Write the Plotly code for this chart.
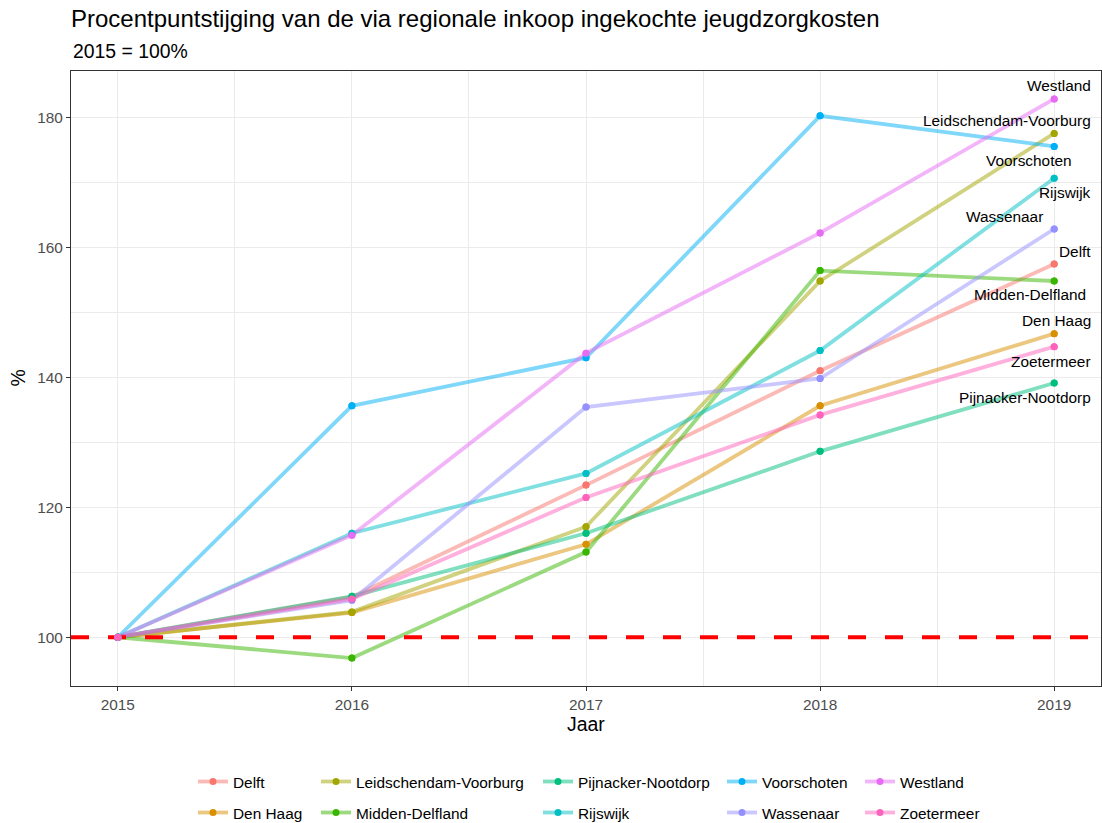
import plotly.graph_objects as go

# data (index, 2015 = 100)
years = [2015, 2016, 2017, 2018, 2019]

gemeenten = [
    "Delft", "Den Haag", "Leidschendam-Voorburg", "Midden-Delfland",
    "Pijnacker-Nootdorp", "Rijswijk", "Voorschoten", "Wassenaar",
    "Westland", "Zoetermeer",
]

delft = [100, 106.2, 123.4, 141.0, 157.4]
den_haag = [100, 103.8, 114.3, 135.6, 146.7]
leidschendam_voorburg = [100, 103.9, 117.0, 154.8, 177.5]
midden_delfland = [100, 96.8, 113.1, 156.4, 154.8]
pijnacker_nootdorp = [100, 106.3, 116.0, 128.6, 139.1]
rijswijk = [100, 116.0, 125.2, 144.1, 170.6]
voorschoten = [100, 135.6, 143.0, 180.2, 175.5]
wassenaar = [100, 105.7, 135.4, 139.8, 162.8]
westland = [100, 115.7, 143.7, 162.2, 182.8]
zoetermeer = [100, 105.9, 121.5, 134.2, 144.7]

baseline = 100

series = [delft, den_haag, leidschendam_voorburg, midden_delfland,
          pijnacker_nootdorp, rijswijk, voorschoten, wassenaar,
          westland, zoetermeer]

# ggplot2 default hue palette for 10 groups
colors = ["#F8766D", "#D89000", "#A3A500", "#39B600", "#00BF7D",
          "#00BFC4", "#00B0F6", "#9590FF", "#E76BF3", "#FF62BC"]

# label offsets (px) for the end-of-line labels, like ggrepel put them
label_shift = {
    "Delft": (39, 13),
    "Den Haag": (39, 13),
    "Leidschendam-Voorburg": (39, 13),
    "Midden-Delfland": (34, -14),
    "Pijnacker-Nootdorp": (39, -14),
    "Rijswijk": (39, -14),
    "Voorschoten": (20, -14),
    "Wassenaar": (-9, 12),
    "Westland": (39, 13),
    "Zoetermeer": (39, -15),
}

# legend position per entry: (left x px, centre y px), column-major like ggplot
legend_pos = [(193, 782), (193, 813), (316, 782), (316, 813), (538, 782),
              (538, 813), (722, 782), (722, 813), (860, 782), (860, 813)]

W, H = 1102, 823
FONT = "Liberation Sans, Arial, sans-serif"
PLOT_TOP, PLOT_BOTTOM = 71, 686


def rgba(hex_color, alpha):
    h = hex_color.lstrip("#")
    r, g, b = int(h[0:2], 16), int(h[2:4], 16), int(h[4:6], 16)
    return f"rgba({r},{g},{b},{alpha})"


def paper_y(px):
    return (PLOT_BOTTOM - px) / (PLOT_BOTTOM - PLOT_TOP)


fig = go.Figure()

for i, (name, vals) in enumerate(zip(gemeenten, series)):
    leg = "legend" if i == 0 else f"legend{i + 1}"
    fig.add_trace(go.Scatter(
        x=years, y=vals, name=name, mode="lines+markers",
        line=dict(color=rgba(colors[i], 0.5), width=3.8),
        marker=dict(color=colors[i], size=7),
        legend=leg,
    ))

# dashed reference line, expanded x range like ggplot
span = years[-1] - years[0]
x_lo, x_hi = years[0] - 0.05 * span, years[-1] + 0.05 * span
fig.add_trace(go.Scatter(
    x=[x_lo, x_hi], y=[baseline, baseline], mode="lines",
    line=dict(color="#FF0000", width=4, dash="18px,19px"),
    showlegend=False, hoverinfo="skip",
))

# points again on top of every line (ggplot draws the point layer last)
for i, (name, vals) in enumerate(zip(gemeenten, series)):
    fig.add_trace(go.Scatter(
        x=years, y=vals, mode="markers", showlegend=False,
        marker=dict(color=colors[i], size=7), hoverinfo="skip",
    ))

for name, vals in zip(gemeenten, series):
    dx, dy = label_shift[name]
    fig.add_annotation(
        x=years[-1], y=vals[-1], text=name, showarrow=False,
        xanchor="right", yanchor="middle", xshift=dx, yshift=dy,
        font=dict(family=FONT, size=15.4, color="black"),
    )

allvals = [v for s in series for v in s]
y_lo, y_hi = min(allvals), max(allvals)
pad = 0.05 * (y_hi - y_lo)

# subtitle and axis titles
fig.add_annotation(
    xref="paper", yref="paper", x=0, y=paper_y(51),
    xanchor="left", yanchor="middle", showarrow=False,
    text="2015 = 100%", font=dict(family=FONT, size=19.4, color="black"),
)
fig.add_annotation(
    xref="paper", yref="paper", x=0.5, y=paper_y(724),
    xanchor="center", yanchor="middle", showarrow=False,
    text="Jaar", font=dict(family=FONT, size=19.4, color="black"),
)
fig.add_annotation(
    xref="paper", yref="paper", x=0, xshift=-54, y=0.5,
    xanchor="center", yanchor="middle", showarrow=False, textangle=-90,
    text="%", font=dict(family=FONT, size=19.4, color="black"),
)

legends = {}
for i, (lx, ly) in enumerate(legend_pos):
    key = "legend" if i == 0 else f"legend{i + 1}"
    legends[key] = dict(
        xref="container", yref="container",
        x=lx / W, y=1 - ly / H, xanchor="left", yanchor="middle",
        orientation="v", bgcolor="rgba(0,0,0,0)", borderwidth=0,
        itemwidth=30, font=dict(family=FONT, size=15.4, color="black"),
    )

axis_common = dict(
    showline=True, mirror=True, linecolor="#333333", linewidth=1.1,
    ticks="outside", ticklen=4, tickwidth=1.1, tickcolor="#333333",
    tickfont=dict(family=FONT, size=15.4, color="#4D4D4D"),
    showgrid=True, gridcolor="#EBEBEB", gridwidth=1.3, zeroline=False,
    automargin=False,
)

fig.update_layout(
    width=W, height=H,
    margin=dict(l=71, r=1, t=PLOT_TOP, b=H - PLOT_BOTTOM, autoexpand=False),
    paper_bgcolor="white", plot_bgcolor="white",
    font=dict(family=FONT, color="black"),
    title=dict(
        text="Procentpuntstijging van de via regionale inkoop ingekochte jeugdzorgkosten",
        xref="container", yref="container", x=71 / W, y=1 - 18.5 / H,
        xanchor="left", yanchor="middle",
        font=dict(family=FONT, size=24, color="black"),
    ),
    xaxis=dict(
        range=[x_lo, x_hi], tickvals=years,
        minor=dict(dtick=0.5, tick0=2015, showgrid=True, gridcolor="#EBEBEB", gridwidth=0.7),
        **axis_common,
    ),
    yaxis=dict(
        range=[y_lo - pad, y_hi + pad], tickvals=[100, 120, 140, 160, 180],
        minor=dict(dtick=10, tick0=90, showgrid=True, gridcolor="#EBEBEB", gridwidth=0.7),
        **axis_common,
    ),
    **legends,
)

fig.write_html(
    "out.html",
    config={"displayModeBar": False},
    post_script="document.body.style.margin='0';",
)
